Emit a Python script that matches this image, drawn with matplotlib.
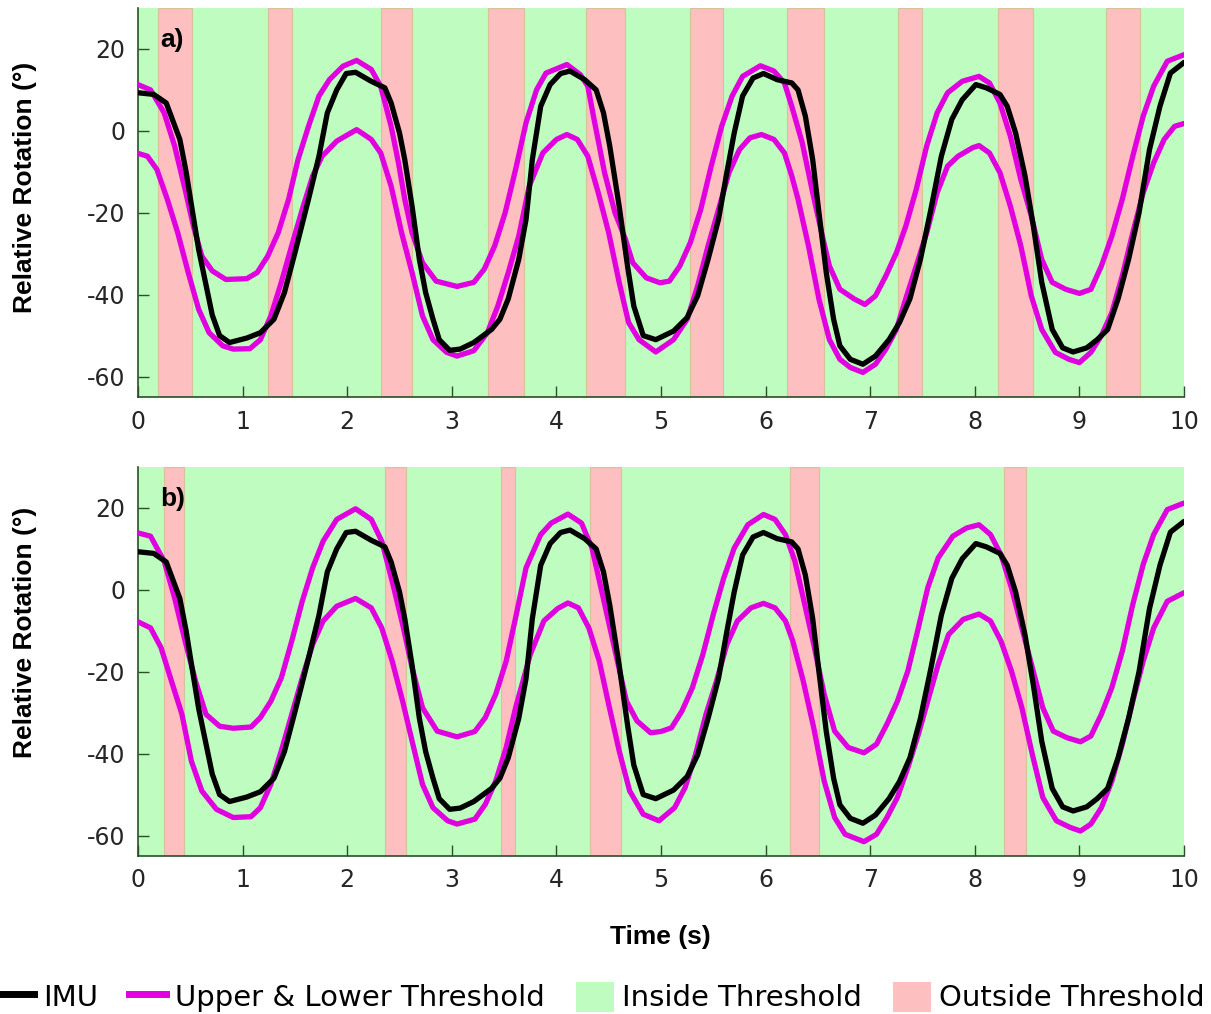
import matplotlib
matplotlib.use("Agg")
import matplotlib.pyplot as plt
from matplotlib.lines import Line2D
from matplotlib.patches import Patch

plt.rcParams["axes.unicode_minus"] = False

# IMU relative rotation (same signal in both panels)
imu_t = [0, 0.15, 0.27, 0.40, 0.46, 0.51, 0.58, 0.645, 0.71, 0.78, 0.875, 1.04, 1.17,
         1.30, 1.40, 1.50, 1.63, 1.73, 1.81, 1.90, 1.99, 2.08, 2.23, 2.36, 2.42, 2.50,
         2.55, 2.62, 2.69, 2.75, 2.82, 2.88, 2.98, 3.08, 3.21, 3.38, 3.46, 3.54, 3.64,
         3.71, 3.77, 3.85, 3.94, 4.04, 4.13, 4.27, 4.38, 4.45, 4.51, 4.60, 4.68, 4.74,
         4.83, 4.95, 5.12, 5.25, 5.35, 5.45, 5.55, 5.63, 5.70, 5.78, 5.88, 5.98, 6.11,
         6.25, 6.31, 6.38, 6.45, 6.51, 6.58, 6.65, 6.71, 6.81, 6.93, 7.05, 7.18, 7.28,
         7.38, 7.48, 7.58, 7.68, 7.78, 7.88, 8.01, 8.11, 8.24, 8.31, 8.39, 8.48, 8.56,
         8.64, 8.74, 8.84, 8.94, 9.07, 9.17, 9.27, 9.37, 9.47, 9.57, 9.67, 9.77, 9.87, 10.0]
imu_v = [9.3, 8.9, 6.8, -2.1, -10, -18, -29, -37, -45, -50, -51.7, -50.6, -49.3,
         -46, -39.5, -29.8, -16.7, -6.2, 4.4, 10, 14, 14.3, 12.1, 10.5, 6.8, -0.5,
         -7, -18.4, -31.4, -39.5, -46, -51, -53.6, -53.3, -51.7, -48.5, -46, -41, -31.4,
         -21.6, -7, 6, 11.3, 14, 14.6, 12.5, 10, 4.4, -3.7, -18.4, -33, -42.8,
         -50, -51, -48.9, -45.6, -40.3, -31.4, -21.6, -10.1, -0.5, 8.5, 12.9, 14, 12.5,
         11.7, 10, 3.6, -7, -20, -34.6, -46, -52.5, -55.8, -57, -55, -51, -46.8,
         -41, -31.4, -19.2, -6.2, 2.8, 7.6, 11.3, 10.5, 8.9, 6, -0.5, -11, -23.3,
         -37, -48.5, -53, -54, -53, -51, -48.5, -41, -31.4, -20, -4.6, 6, 14.1, 16.7]

# panel a) thresholds
upper_a_t = [0, 0.12, 0.25, 0.35, 0.45, 0.53, 0.61, 0.71, 0.84, 1.04, 1.14, 1.24, 1.34,
             1.44, 1.53, 1.63, 1.73, 1.83, 1.96, 2.09, 2.23, 2.32, 2.42, 2.49, 2.55, 2.62,
             2.72, 2.85, 3.05, 3.21, 3.31, 3.41, 3.51, 3.61, 3.71, 3.81, 3.90, 4.10, 4.23,
             4.30, 4.36, 4.46, 4.56, 4.66, 4.73, 4.86, 4.99, 5.08, 5.18, 5.28, 5.38, 5.48,
             5.58, 5.68, 5.78, 5.95, 6.08, 6.18, 6.25, 6.35, 6.45, 6.55, 6.61, 6.71, 6.85,
             6.95, 7.05, 7.15, 7.25, 7.34, 7.44, 7.54, 7.64, 7.74, 7.88, 8.04, 8.14, 8.24,
             8.34, 8.44, 8.54, 8.64, 8.74, 8.87, 9.00, 9.11, 9.21, 9.31, 9.41, 9.51, 9.61,
             9.71, 9.84, 10.0]
upper_a_v = [11.3, 10, 4.4, -3.7, -14.3, -23.3, -30.6, -34.2, -36.3, -36.1, -34.6, -30.6, -24.9,
             -16.7, -7, 1.1, 8.5, 12.5, 15.8, 17.2, 15, 10.9, 1.1, -7.8, -16.7, -24.9,
             -32.2, -36.7, -38, -37, -33.8, -28.1, -20, -9.4, 2, 10, 14.1, 16.2, 13.7,
             10.9, 2.8, -10.2, -20, -26.5, -32.2, -35.9, -37.1, -36.7, -33, -27.3, -19.2, -8.6,
             1.1, 8.5, 13.3, 15.9, 14.6, 11.7, 6, -2.9, -15.1, -26.5, -33, -38.7, -41.1,
             -42.4, -40.3, -35.4, -29.8, -23.3, -14.3, -3.7, 4.4, 9.3, 12.1, 13.3, 11.7, 6.8,
             -1.3, -11.9, -20.8, -31.4, -37, -38.7, -39.7, -38.7, -33, -25.7, -16.7, -6.2, 3.6,
             10.9, 17, 18.6]
lower_a_t = [0, 0.09, 0.18, 0.28, 0.38, 0.48, 0.58, 0.68, 0.81, 0.91, 1.07, 1.17, 1.27,
             1.37, 1.47, 1.57, 1.67, 1.76, 1.90, 2.09, 2.23, 2.32, 2.42, 2.52, 2.62, 2.72,
             2.82, 2.95, 3.05, 3.21, 3.34, 3.44, 3.54, 3.64, 3.74, 3.87, 4.00, 4.10, 4.20,
             4.30, 4.40, 4.50, 4.60, 4.69, 4.79, 4.95, 5.12, 5.25, 5.35, 5.45, 5.55, 5.65,
             5.75, 5.85, 5.96, 6.08, 6.18, 6.25, 6.31, 6.41, 6.51, 6.61, 6.71, 6.81, 6.93,
             7.05, 7.15, 7.25, 7.34, 7.44, 7.54, 7.64, 7.74, 7.84, 7.98, 8.04, 8.14, 8.24,
             8.34, 8.44, 8.54, 8.64, 8.77, 8.90, 9.00, 9.11, 9.21, 9.31, 9.41, 9.51, 9.61,
             9.71, 9.81, 9.91, 10.0]
lower_a_v = [-5.5, -6.2, -9.4, -16.7, -24.9, -34.6, -43.6, -49.3, -52.5, -53.3, -53.2, -51, -45.2,
             -37, -28, -19.2, -11, -6.2, -2.5, 0.3, -2.1, -5.4, -13.5, -24.9, -34.6, -45.2,
             -51, -54.1, -55, -53.7, -49.3, -42.8, -34.6, -25.7, -13.5, -5.4, -2.1, -0.9, -2.1,
             -6.2, -15.1, -24.9, -37, -46.8, -51, -54, -51, -46, -37.9, -28.1, -19.2, -10.2,
             -4.6, -1.7, -0.9, -2.1, -5.4, -11, -16.7, -28.1, -41.1, -51, -55.8, -57.8, -59,
             -57, -53.3, -48.5, -41, -33, -24.9, -15.1, -8.6, -6.2, -4.1, -3.6, -5.4, -10.2,
             -18.4, -28.1, -40.3, -48.5, -54.1, -55.8, -56.6, -54.1, -50, -44.4, -35.4, -24.9, -15.1,
             -7.8, -2.1, 1.1, 1.8]

# panel b) thresholds
upper_b_t = [0, 0.12, 0.25, 0.35, 0.45, 0.55, 0.65, 0.78, 0.91, 1.08, 1.17, 1.27, 1.37,
             1.47, 1.57, 1.67, 1.77, 1.90, 2.08, 2.23, 2.33, 2.43, 2.53, 2.62, 2.72, 2.86,
             3.05, 3.22, 3.32, 3.42, 3.52, 3.61, 3.71, 3.85, 3.95, 4.11, 4.24, 4.34, 4.44,
             4.54, 4.67, 4.77, 4.90, 5.00, 5.10, 5.20, 5.30, 5.40, 5.50, 5.60, 5.70, 5.83,
             5.98, 6.09, 6.19, 6.28, 6.36, 6.46, 6.56, 6.66, 6.79, 6.94, 7.06, 7.16, 7.26,
             7.36, 7.46, 7.55, 7.65, 7.79, 7.92, 8.04, 8.15, 8.25, 8.35, 8.45, 8.55, 8.65,
             8.75, 8.88, 9.01, 9.11, 9.21, 9.31, 9.41, 9.51, 9.61, 9.71, 9.84, 10.0]
upper_b_v = [13.9, 13.1, 7, -2, -12.5, -22.3, -30.4, -33.3, -33.8, -33.5, -31.2, -27.2, -21.5,
             -12.5, -2.8, 5.4, 11.9, 17.2, 19.8, 17.2, 11.9, 2.1, -8.5, -19, -28.8, -34.5,
             -35.9, -34.6, -31.2, -25.5, -17.4, -6.8, 5.4, 13.5, 16.3, 18.5, 16.3, 10.2, -1.1,
             -12.5, -27.2, -32, -34.9, -34.6, -33.7, -29.6, -23.9, -15.8, -6, 2.9, 10.2, 15.9,
             18.4, 17.2, 13.5, 7, -2, -13.3, -25.5, -34.5, -38.5, -39.8, -37.7, -32.8, -27.2,
             -19.8, -9.3, 0.5, 7.8, 13.1, 15.1, 15.9, 13.5, 8.6, 0.5, -9.3, -19, -28.8,
             -34.5, -36.1, -37.1, -35.7, -30.4, -23.9, -15, -3.6, 6.2, 13.5, 19.6, 21.2]
lower_b_t = [0, 0.12, 0.22, 0.32, 0.42, 0.51, 0.61, 0.75, 0.91, 1.08, 1.17, 1.27, 1.37,
             1.47, 1.57, 1.67, 1.77, 1.90, 2.08, 2.23, 2.33, 2.43, 2.53, 2.62, 2.72, 2.82,
             2.96, 3.05, 3.22, 3.32, 3.42, 3.52, 3.61, 3.75, 3.88, 4.01, 4.11, 4.21, 4.31,
             4.41, 4.50, 4.60, 4.70, 4.83, 4.98, 5.13, 5.23, 5.33, 5.43, 5.53, 5.63, 5.73,
             5.86, 5.98, 6.09, 6.19, 6.26, 6.36, 6.46, 6.56, 6.66, 6.76, 6.94, 7.06, 7.16,
             7.26, 7.36, 7.46, 7.55, 7.65, 7.75, 7.89, 8.04, 8.15, 8.25, 8.35, 8.45, 8.55,
             8.65, 8.78, 8.91, 9.01, 9.11, 9.21, 9.31, 9.41, 9.51, 9.61, 9.71, 9.84, 10.0]
lower_b_v = [-7.8, -9.3, -14.1, -22.3, -30.4, -41.8, -49.1, -53.6, -55.6, -55.4, -53.2, -47.5, -39.3,
             -30.4, -21.5, -13.3, -7.6, -4, -2.1, -4.4, -9.3, -17.4, -27.2, -36.9, -47.5, -53.2,
             -56.4, -57.2, -56, -52.4, -46.7, -38.5, -28.8, -15.8, -7.6, -4.6, -3.2, -4.4, -9.3,
             -17.4, -28, -39.3, -49.1, -54.8, -56.4, -53.2, -48.3, -40.2, -30.4, -22.3, -13.3, -7.6,
             -4.4, -3.3, -4.4, -7.6, -12.5, -22.3, -33.7, -46.7, -55.6, -59.7, -61.5, -59.7, -55.6,
             -50.7, -43.4, -35.3, -27.2, -18.2, -10.9, -7.2, -5.9, -7.6, -12.5, -19.8, -28.8, -40.2,
             -50.7, -56.4, -58, -58.9, -57.2, -53.2, -46.7, -37.7, -27.2, -17.4, -9.3, -2.8, -0.7]

# outside-threshold intervals (s)
out_a_start = [0.19, 1.247, 2.327, 3.347, 4.286, 5.279, 6.20, 7.263, 8.217, 9.257]
out_a_end = [0.516, 1.477, 2.617, 3.686, 4.651, 5.589, 6.562, 7.496, 8.553, 9.577]
out_b_start = [0.25, 2.357, 3.472, 4.325, 6.236, 8.28]
out_b_end = [0.44, 2.56, 3.60, 4.618, 6.509, 8.49]

GREEN = "#bffcbf"
RED = "#fdbfbf"
MAG = "#e000e0"
AXC = "#2a4f2a"
LABEL_FONT = ["Liberation Sans", "DejaVu Sans"]

fig = plt.figure(figsize=(12.11, 10.14), dpi=100)
ax_a = fig.add_axes([0.11396, 0.60848, 0.86375, 0.38363])
ax_b = fig.add_axes([0.11396, 0.15582, 0.86375, 0.38363])

panels = [
    (ax_a, "a)", upper_a_t, upper_a_v, lower_a_t, lower_a_v, out_a_start, out_a_end, 0.54),
    (ax_b, "b)", upper_b_t, upper_b_v, lower_b_t, lower_b_v, out_b_start, out_b_end, 0.576),
]

for ax, tag, ut, uv, lt, lv, s0, s1, ylab_y in panels:
    ax.set_facecolor(GREEN)
    for a, b in zip(s0, s1):
        ax.axvspan(a, b, facecolor=RED, edgecolor="#d6c39a", linewidth=0.8, zorder=1)
    line_kw = dict(lw=3.8, solid_joinstyle="round", solid_capstyle="round")
    ax.plot(ut, uv, color=MAG, zorder=3, **line_kw)
    ax.plot(lt, lv, color=MAG, zorder=3, **line_kw)
    ax.plot(imu_t, imu_v, color="black", zorder=4, **line_kw)

    ax.set_xlim(0, 10)
    ax.set_ylim(-65, 30)
    ax.set_xticks(range(0, 11))
    ax.set_yticks([-60, -40, -20, 0, 20])
    for side in ("top", "right"):
        ax.spines[side].set_visible(False)
    for side in ("left", "bottom"):
        ax.spines[side].set_color(AXC)
        ax.spines[side].set_linewidth(1.2)
    ax.tick_params(direction="in", length=8, width=1, color=AXC, labelcolor="#262626",
                   labelsize=17, pad=9)

    ax.text(0.021, 0.918, tag, transform=ax.transAxes, ha="left", va="center",
            fontsize=19, fontweight="bold", family=LABEL_FONT, zorder=5)
    ax.text(-0.108, ylab_y, "Relative Rotation (\u00b0)", transform=ax.transAxes,
            rotation=90, ha="center", va="center", fontsize=19, fontweight="bold",
            family=LABEL_FONT)

fig.text(660 / 1211, 1 - 937 / 1014, "Time (s)", ha="center", va="center",
         fontsize=19, fontweight="bold", family=LABEL_FONT)

handles = [
    Line2D([0], [0], color="black", lw=5),
    Line2D([0], [0], color=MAG, lw=5),
    Patch(facecolor=GREEN, edgecolor="none"),
    Patch(facecolor=RED, edgecolor="none"),
]
labels = ["IMU", "Upper & Lower Threshold", "Inside Threshold", "Outside Threshold"]
fig.legend(handles, labels, loc="center", bbox_to_anchor=(0.496, 1 - 997 / 1014),
           ncol=4, frameon=False, fontsize=21, handlelength=1.3, handleheight=1.2,
           handletextpad=0.3, columnspacing=1.05, borderpad=0, borderaxespad=0)

fig.savefig("out.png", dpi=100)
